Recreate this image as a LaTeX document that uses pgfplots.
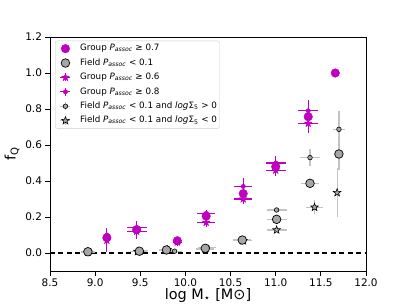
\documentclass[border=0pt]{standalone}
\usepackage{pgfplots}
\pgfplotsset{compat=1.18}
\usepackage{fontspec}
\setmainfont{DejaVu Sans}
\definecolor{mag}{RGB}{191,0,191}
\definecolor{fgray}{RGB}{166,166,166}
\definecolor{ebgray}{RGB}{195,195,195}
\pgfdeclareplotmark{fstar}{%
  \pgfpathmoveto{\pgfpointpolar{90}{\pgfplotmarksize}}%
  \pgfpathlineto{\pgfpointpolar{126}{0.42\pgfplotmarksize}}%
  \pgfpathlineto{\pgfpointpolar{162}{\pgfplotmarksize}}%
  \pgfpathlineto{\pgfpointpolar{198}{0.42\pgfplotmarksize}}%
  \pgfpathlineto{\pgfpointpolar{234}{\pgfplotmarksize}}%
  \pgfpathlineto{\pgfpointpolar{270}{0.42\pgfplotmarksize}}%
  \pgfpathlineto{\pgfpointpolar{306}{\pgfplotmarksize}}%
  \pgfpathlineto{\pgfpointpolar{342}{0.42\pgfplotmarksize}}%
  \pgfpathlineto{\pgfpointpolar{18}{\pgfplotmarksize}}%
  \pgfpathlineto{\pgfpointpolar{54}{0.42\pgfplotmarksize}}%
  \pgfpathclose\pgfusepathqfillstroke}
\newcommand{\Pa}{\textit{P}\textsubscript{\textit{assoc}}}
\newcommand{\LW}{\path (0,-1bp) (22bp,1bp);}
\newcommand{\LC}{9.5bp}
\begin{document}
\begin{tikzpicture}
\path[use as bounding box] (-50bp,-34bp) rectangle (357bp,271bp);
\begin{axis}[
  at={(0,0)}, anchor=south west,
  scale only axis, width=316bp, height=234bp,
  xmin=8.5, xmax=12.0, ymin=-0.1, ymax=1.2,
  xtick={8.5,9,...,12}, ytick={0,0.2,...,1.2},
  xticklabel style={/pgf/number format/.cd,fixed,fixed zerofill,precision=1},
  yticklabel style={/pgf/number format/.cd,fixed,fixed zerofill,precision=1},
  /pgf/number format/assume math mode=true,
  tick label style={font=\fontsize{10.5}{12}\selectfont},
  xtick pos=bottom, ytick pos=left, tick align=outside,
  major tick length=4.5bp,
  axis line style={line width=0.9bp},
  every tick/.style={black,line width=0.9bp},
  xlabel={log M\textsubscript{⋆} [M⊙]},
  ylabel={f\textsubscript{Q}},
  label style={font=\fontsize{14.5}{16}\selectfont},
  xlabel style={yshift=5bp},
  ylabel style={yshift=-1bp},
  legend cell align=left,
  legend style={at={(0.016,0.984)}, anchor=north west, draw=gray!40, rounded corners=2bp,
    fill=white, font=\fontsize{8.8}{10}\selectfont, row sep=0bp, inner sep=0.5bp,
    nodes={text height=7bp, text depth=2.4bp, inner ysep=2.5bp, inner xsep=2bp}},
  error bars/error mark=none,
]
% legend images
\addlegendimage{legend image code/.code={\LW\fill[mag] (\LC,0) circle (4.3bp);}}
\addlegendentry{Group \Pa{} ≥ 0.7}
\addlegendimage{legend image code/.code={\LW\filldraw[fill=fgray,draw=black,line width=0.7bp] (\LC,0) circle (4.3bp);}}
\addlegendentry{Field \Pa{} < 0.1}
\addlegendimage{legend image code/.code={\LW\draw[mag,line width=1.2bp] (\LC-5bp,0)--(\LC+5bp,0) (\LC,-4bp)--(\LC,4bp);
  \pgfsetfillcolor{mag}\pgfsetstrokecolor{mag}\pgfsetplotmarksize{4bp}\pgftransformshift{\pgfpoint{\LC}{0pt}}\pgfuseplotmark{fstar}}}
\addlegendentry{Group \Pa{} ≥ 0.6}
\addlegendimage{legend image code/.code={\LW\draw[mag,line width=1.2bp] (\LC-5bp,0)--(\LC+5bp,0) (\LC,-4bp)--(\LC,4bp);
  \fill[mag] (\LC,0) circle (2.2bp);}}
\addlegendentry{Group \Pa{} ≥ 0.8}
\addlegendimage{legend image code/.code={\LW\draw[ebgray,line width=1.2bp] (\LC-5bp,0)--(\LC+5bp,0) (\LC,-4bp)--(\LC,4bp);
  \filldraw[fill=fgray,draw=black,line width=0.6bp] (\LC,0) circle (2.3bp);}}
\addlegendentry{Field \Pa{} < 0.1 and \textit{log}Σ\textsubscript{5} > 0}
\addlegendimage{legend image code/.code={\LW\draw[ebgray,line width=1.2bp] (\LC-5bp,0)--(\LC+5bp,0) (\LC,-4bp)--(\LC,4bp);
  \pgfsetfillcolor{fgray}\pgfsetstrokecolor{black}\pgfsetlinewidth{0.6bp}\pgfsetplotmarksize{4bp}\pgftransformshift{\pgfpoint{\LC}{0pt}}\pgfuseplotmark{fstar}}}
\addlegendentry{Field \Pa{} < 0.1 and \textit{log}Σ\textsubscript{5} < 0}

% zero line
\addplot[black, dashed, line width=1.3bp, dash pattern=on 5bp off 3.5bp, forget plot] coordinates {(8.5,0) (12.0,0)};

% Field logSigma5 < 0 (stars)
\addplot[forget plot, only marks, mark=fstar, mark size=4bp, mark options={fill=fgray, draw=black, line width=0.6bp},
  error bars/.cd, x dir=both, x explicit, y dir=both, y explicit,
  error bar style={ebgray, line width=1.2bp}]
  table[x=x, y=y, x error=ex, y error=ey] {
x y ex ey
8.92 0.005 0.08 0.005
9.47 0.008 0.08 0.008
9.80 0.018 0.08 0.010
10.22 0.022 0.10 0.010
10.64 0.068 0.10 0.010
11.01 0.128 0.11 0.010
11.43 0.254 0.09 0.040
11.68 0.335 0.03 0.135
};
% Field logSigma5 > 0 (small circles)
\addplot[forget plot, only marks, mark=*, mark size=2.3bp, mark options={fill=fgray, draw=black, line width=0.6bp},
  error bars/.cd, x dir=both, x explicit, y dir=both, y explicit,
  error bar style={ebgray, line width=1.2bp}]
  table[x=x, y=y, x error=ex, y error=ey] {
x y ex ey
8.92 0.010 0.08 0.008
9.50 0.012 0.08 0.010
9.88 0.010 0.08 0.008
10.24 0.032 0.10 0.010
10.63 0.075 0.10 0.010
11.01 0.239 0.11 0.012
11.38 0.530 0.11 0.045
11.70 0.687 0.07 0.100
};
% Field Passoc < 0.1 (large circles)
\addplot[forget plot, only marks, mark=*, mark size=4.3bp, mark options={fill=fgray, draw=black, line width=0.7bp},
  error bars/.cd, x dir=both, x explicit, y dir=both, y explicit,
  error bar style={ebgray, line width=1.2bp}]
  table[x=x, y=y, x error=ex, y error=ey] {
x y ex ey
8.92 0.007 0.08 0.005
9.49 0.010 0.08 0.005
9.79 0.017 0.08 0.008
10.22 0.026 0.10 0.008
10.63 0.072 0.10 0.010
11.01 0.187 0.11 0.015
11.38 0.387 0.10 0.020
11.70 0.550 0.03 0.090
};
% Group >= 0.6 (stars)
\addplot[forget plot, only marks, mark=fstar, mark size=4bp, mark options={fill=mag, draw=mag},
  error bars/.cd, x dir=both, x explicit, y dir=both, y explicit,
  error bar style={mag, line width=1.2bp}]
  table[x=x, y=y, x error=ex, y error=ey] {
x y ex ey
9.13 0.070 0.03 0.065
9.46 0.120 0.11 0.040
9.91 0.060 0.05 0.020
10.23 0.170 0.10 0.025
10.64 0.300 0.10 0.030
11.00 0.460 0.11 0.030
11.36 0.720 0.11 0.055
};
% Group >= 0.8 (small dots)
\addplot[forget plot, only marks, mark=*, mark size=2.2bp, mark options={fill=mag, draw=mag},
  error bars/.cd, x dir=both, x explicit, y dir=both, y explicit,
  error bar style={mag, line width=1.2bp}]
  table[x=x, y=y, x error=ex, y error=ey] {
x y ex ey
9.13 0.100 0.03 0.040
9.46 0.140 0.11 0.040
9.91 0.070 0.05 0.020
10.23 0.220 0.10 0.020
10.64 0.370 0.10 0.045
11.00 0.500 0.11 0.040
11.36 0.790 0.11 0.060
};
% Group >= 0.7 (large circles)
\addplot[forget plot, only marks, mark=*, mark size=4.3bp, mark options={fill=mag, draw=mag}]
  table {
x y
9.13 0.085
9.46 0.130
9.91 0.068
10.23 0.205
10.64 0.330
11.00 0.480
11.36 0.757
11.66 1.000
};
\end{axis}
\end{tikzpicture}
\end{document}
